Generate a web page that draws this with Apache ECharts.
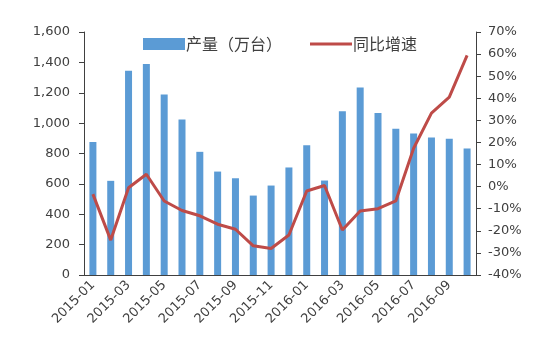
<!DOCTYPE html>
<html><head><meta charset="utf-8">
<script src="https://cdn.jsdelivr.net/npm/echarts@6/dist/echarts.min.js"></script>
<style>html,body{margin:0;padding:0;background:#fff}#c{width:560px;height:342px}</style>
</head><body><div id="c"></div>
<script>
const categories = ['2015-01','2015-02','2015-03','2015-04','2015-05','2015-06','2015-07','2015-08','2015-09','2015-10','2015-11','2015-12',
  '2016-01','2016-02','2016-03','2016-04','2016-05','2016-06','2016-07','2016-08','2016-09','2016-10'];
const output = [875,620,1345,1390,1189,1024,811,681,637,523,589,708,855,622,1079,1235,1066,963,932,905,897,833];
const growth = [-3.4,-24.2,-0.5,5.6,-6.5,-10.8,-13.2,-17,-19.3,-26.8,-28,-21.9,-2,0.5,-19.6,-11,-10,-6.5,17.4,33.3,40.5,59.4];
const seriesNames = ['产量（万台）','同比增速'];

const txt = '#404040';
const font = 'DejaVu Sans';
const chart = echarts.init(document.getElementById('c'), null, {renderer:'canvas'});
chart.setOption({
  animation:false,
  textStyle:{fontFamily:font},
  legend:{
    left:138, top:31, itemWidth:42, itemHeight:12, itemGap:28,
    symbolKeepAspect:true,
    textStyle:{fontFamily:'Noto Sans CJK SC', fontSize:16, color:txt, padding:[0,0,0,-4]},
    data:[{name:seriesNames[0], icon:'rect'},
          {name:seriesNames[1], icon:'path://M0,0L42,0L42,3L0,3Z', itemStyle:{color:'#BE4B48'}}]
  },
  grid:{left:84, right:84, top:32, bottom:67},
  xAxis:{
    type:'category', data:categories,
    axisLine:{lineStyle:{color:'#404040', width:1}},
    axisTick:{interval:1, length:5, lineStyle:{color:'#404040'}},
    axisLabel:{interval:1, rotate:45, fontSize:13, color:txt, fontFamily:font, margin:8}
  },
  yAxis:[{
    type:'value', min:0, max:1600, interval:200,
    splitLine:{show:false},
    axisLine:{show:true, lineStyle:{color:'#404040'}},
    axisTick:{show:true, length:5, lineStyle:{color:'#404040'}},
    axisLabel:{fontSize:13, color:txt, fontFamily:font, margin:14,
      formatter:v=>v.toLocaleString('en-US')}
  },{
    type:'value', min:-40, max:70, interval:10,
    splitLine:{show:false},
    axisLine:{show:true, lineStyle:{color:'#404040'}},
    axisTick:{show:true, length:5, lineStyle:{color:'#404040'}},
    axisLabel:{fontSize:13, color:txt, fontFamily:font, margin:12, formatter:'{value}%'}
  }],
  series:[{
    name:seriesNames[0], type:'bar', data:output, barWidth:7,
    itemStyle:{color:'#5B9BD5'}
  },{
    name:seriesNames[1], type:'line', yAxisIndex:1, data:growth,
    symbol:'none', lineStyle:{color:'#BE4B48', width:3},
    itemStyle:{color:'#BE4B48'}
  }]
});
</script></body></html>
